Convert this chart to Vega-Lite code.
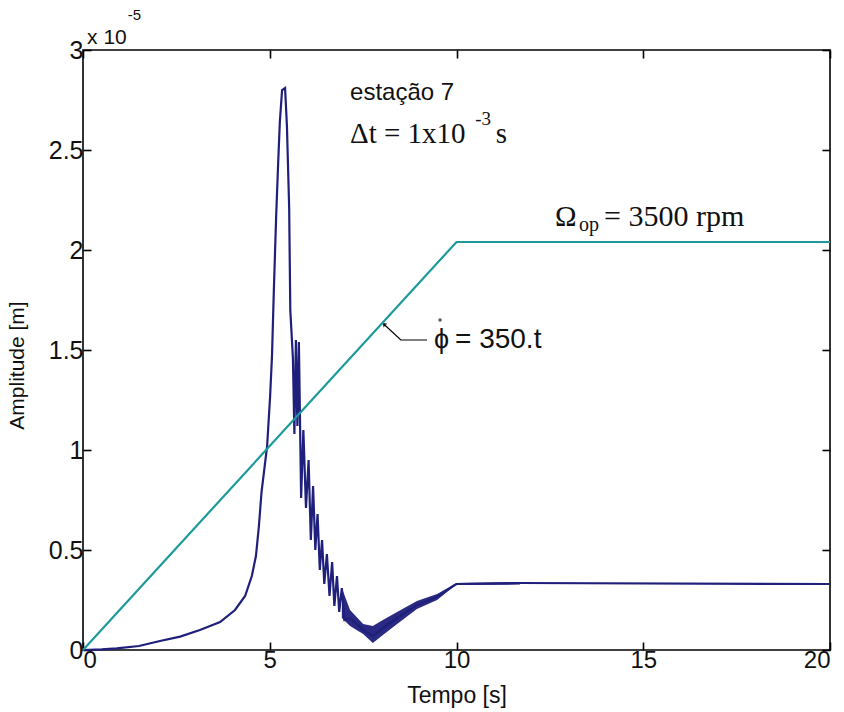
{
  "$schema": "https://vega.github.io/schema/vega-lite/v6.json",
  "width": 747,
  "height": 600,
  "autosize": "none",
  "padding": {"left": 83, "top": 50, "right": 14, "bottom": 62},
  "background": "white",
  "config": {
    "view": {"stroke": "black", "strokeWidth": 1.6}
  },
  "datasets": {
    "amplitude": [
      {"t": 0, "a": 0}, {"t": 0.5, "a": 0.003}, {"t": 0.9, "a": 0.008},
      {"t": 1.5, "a": 0.02}, {"t": 2.06, "a": 0.045}, {"t": 2.6, "a": 0.067},
      {"t": 3.13, "a": 0.1}, {"t": 3.67, "a": 0.14}, {"t": 4.07, "a": 0.2},
      {"t": 4.34, "a": 0.27}, {"t": 4.52, "a": 0.37}, {"t": 4.63, "a": 0.47},
      {"t": 4.71, "a": 0.62}, {"t": 4.78, "a": 0.79}, {"t": 4.93, "a": 1.02},
      {"t": 5.01, "a": 1.27}, {"t": 5.06, "a": 1.47}, {"t": 5.11, "a": 1.8},
      {"t": 5.17, "a": 2.16}, {"t": 5.22, "a": 2.41}, {"t": 5.27, "a": 2.64},
      {"t": 5.33, "a": 2.8}, {"t": 5.41, "a": 2.81}, {"t": 5.46, "a": 2.62},
      {"t": 5.52, "a": 2.21}, {"t": 5.55, "a": 1.7}, {"t": 5.62, "a": 1.46},
      {"t": 5.66, "a": 1.08}, {"t": 5.7, "a": 1.55}, {"t": 5.74, "a": 1.12},
      {"t": 5.78, "a": 1.54}, {"t": 5.84, "a": 0.76}, {"t": 5.9, "a": 1.1},
      {"t": 5.97, "a": 0.71}, {"t": 6.04, "a": 0.95}, {"t": 6.1, "a": 0.55},
      {"t": 6.16, "a": 0.82}, {"t": 6.22, "a": 0.5}, {"t": 6.28, "a": 0.68},
      {"t": 6.34, "a": 0.4}, {"t": 6.4, "a": 0.55}, {"t": 6.46, "a": 0.33},
      {"t": 6.53, "a": 0.48}, {"t": 6.6, "a": 0.27}, {"t": 6.67, "a": 0.44},
      {"t": 6.73, "a": 0.22}, {"t": 6.8, "a": 0.37}, {"t": 6.86, "a": 0.19},
      {"t": 6.93, "a": 0.31}, {"t": 7.0, "a": 0.15}, {"t": 7.15, "a": 0.16},
      {"t": 7.5, "a": 0.1}, {"t": 7.76, "a": 0.07}, {"t": 8.03, "a": 0.11},
      {"t": 8.41, "a": 0.16}, {"t": 8.94, "a": 0.225}, {"t": 9.48, "a": 0.265},
      {"t": 9.91, "a": 0.32}, {"t": 10.0, "a": 0.33}, {"t": 11.7, "a": 0.335},
      {"t": 20, "a": 0.33}
    ],
    "band": [
      {"t": 6.93, "hi": 0.31, "lo": 0.16},
      {"t": 7.15, "hi": 0.2, "lo": 0.12},
      {"t": 7.5, "hi": 0.13, "lo": 0.08},
      {"t": 7.76, "hi": 0.12, "lo": 0.035},
      {"t": 8.03, "hi": 0.15, "lo": 0.075},
      {"t": 8.41, "hi": 0.19, "lo": 0.13},
      {"t": 8.94, "hi": 0.245, "lo": 0.205},
      {"t": 9.48, "hi": 0.28, "lo": 0.25},
      {"t": 9.91, "hi": 0.325, "lo": 0.315},
      {"t": 10.0, "hi": 0.335, "lo": 0.325},
      {"t": 11.7, "hi": 0.34, "lo": 0.327}
    ],
    "speed": [
      {"t": 0, "rpm": 0},
      {"t": 10, "rpm": 3500},
      {"t": 20, "rpm": 3500}
    ],
    "labels": [
      {"t": 7.15, "a": 2.75, "txt": "estação 7", "serif": false, "size": 24},
      {"t": 7.15, "a": 2.535, "txt": "Δt = 1x10", "serif": true, "size": 29},
      {"t": 10.5, "a": 2.625, "txt": "-3", "serif": true, "size": 19},
      {"t": 11.05, "a": 2.535, "txt": "s", "serif": true, "size": 29},
      {"t": 12.64, "a": 2.12, "txt": "Ω", "serif": true, "size": 29},
      {"t": 13.28, "a": 2.095, "txt": "op", "serif": true, "size": 20},
      {"t": 13.95, "a": 2.12, "txt": "= 3500 rpm", "serif": true, "size": 30},
      {"t": 9.4, "a": 1.51, "txt": "ϕ", "serif": false, "size": 27},
      {"t": 9.96, "a": 1.51, "txt": "= 350.t", "serif": false, "size": 28},
      {"t": 0.11, "a": 3.03, "txt": "x 10", "serif": false, "size": 21},
      {"t": 1.2, "a": 3.15, "txt": "-5", "serif": false, "size": 15}
    ],
    "phidot": [
      {"t": 9.56, "a": 1.65}
    ],
    "leader": [
      {"k": 0, "t": 9.21, "a": 1.55},
      {"k": 1, "t": 8.51, "a": 1.55},
      {"k": 2, "t": 8.05, "a": 1.63}
    ]
  },
  "layer": [
    {
      "layer": [
        {
          "data": {"name": "band"},
          "mark": {"type": "area", "color": "#1f1f7c", "opacity": 0.95},
          "encoding": {
            "x": {"field": "t", "type": "quantitative", "scale": {"domain": [0, 20], "nice": false}, "axis": null},
            "y": {"field": "hi", "type": "quantitative", "scale": {"domain": [0, 3], "nice": false}, "axis": null},
            "y2": {"field": "lo"}
          }
        },
        {
          "data": {"name": "amplitude"},
          "mark": {"type": "line", "color": "#1f1f7c", "strokeWidth": 2.2},
          "encoding": {
            "x": {
              "field": "t", "type": "quantitative",
              "scale": {"domain": [0, 20], "nice": false},
              "axis": {
                "orient": "bottom", "values": [0, 5, 10, 15, 20], "format": "~g",
                "title": "Tempo [s]", "grid": false, "domain": false,
                "tickColor": "black", "tickWidth": 1.6, "tickSize": -8,
                "labelFont": "Liberation Sans", "labelFontSize": 24, "labelColor": "#111", "labelPadding": 6,
                "titleFont": "Liberation Sans", "titleFontSize": 23, "titleFontWeight": "normal", "titleColor": "#111",
                "titleY": 34, "titleBaseline": "top"
              }
            },
            "y": {
              "field": "a", "type": "quantitative",
              "scale": {"domain": [0, 3], "nice": false},
              "axis": {
                "orient": "left", "values": [0, 0.5, 1, 1.5, 2, 2.5, 3], "format": "~g",
                "title": "Amplitude [m]", "grid": false, "domain": false,
                "tickColor": "black", "tickWidth": 1.6, "tickSize": -8,
                "labelFont": "Liberation Sans", "labelFontSize": 25, "labelColor": "#111", "labelPadding": 8,
                "titleFont": "Liberation Sans", "titleFontSize": 21, "titleFontWeight": "normal", "titleColor": "#111",
                "titleX": -56, "titleY": 315, "titleBaseline": "bottom"
              }
            }
          }
        },
        {
          "data": {"name": "amplitude"},
          "mark": {"type": "point", "opacity": 0},
          "encoding": {
            "x": {"field": "t", "type": "quantitative",
                  "axis": {"orient": "top", "values": [0, 5, 10, 15, 20], "labels": false, "title": null,
                           "grid": false, "domain": false, "tickColor": "black", "tickWidth": 1.6, "tickSize": -8}},
            "y": {"field": "a", "type": "quantitative",
                  "axis": {"orient": "right", "values": [0, 0.5, 1, 1.5, 2, 2.5, 3], "labels": false, "title": null,
                           "grid": false, "domain": false, "tickColor": "black", "tickWidth": 1.6, "tickSize": -8}}
          }
        },
        {
          "data": {"name": "leader"},
          "mark": {"type": "line", "color": "black", "strokeWidth": 1.2},
          "encoding": {
            "x": {"field": "t", "type": "quantitative", "axis": null},
            "y": {"field": "a", "type": "quantitative", "axis": null},
            "order": {"field": "k"}
          }
        },
        {
          "data": {"name": "leader"},
          "transform": [{"filter": "datum.k == 2"}],
          "mark": {"type": "point", "shape": "triangle-up", "angle": -46, "size": 30, "filled": true, "color": "black"},
          "encoding": {
            "x": {"field": "t", "type": "quantitative", "axis": null},
            "y": {"field": "a", "type": "quantitative", "axis": null}
          }
        },
        {
          "data": {"name": "phidot"},
          "mark": {"type": "point", "shape": "circle", "size": 12, "filled": true, "color": "#111"},
          "encoding": {
            "x": {"field": "t", "type": "quantitative", "axis": null},
            "y": {"field": "a", "type": "quantitative", "axis": null}
          }
        },
        {
          "data": {"name": "labels"},
          "transform": [{"filter": "!datum.serif"}],
          "mark": {"type": "text", "align": "left", "baseline": "alphabetic", "color": "#111", "font": "Liberation Sans", "clip": false},
          "encoding": {
            "x": {"field": "t", "type": "quantitative", "axis": null},
            "y": {"field": "a", "type": "quantitative", "axis": null},
            "text": {"field": "txt"},
            "size": {"field": "size", "type": "quantitative", "scale": null}
          }
        },
        {
          "data": {"name": "labels"},
          "transform": [{"filter": "datum.serif"}],
          "mark": {"type": "text", "align": "left", "baseline": "alphabetic", "color": "#111", "font": "Liberation Serif", "clip": false},
          "encoding": {
            "x": {"field": "t", "type": "quantitative", "axis": null},
            "y": {"field": "a", "type": "quantitative", "axis": null},
            "text": {"field": "txt"},
            "size": {"field": "size", "type": "quantitative", "scale": null}
          }
        }
      ],
      "resolve": {"axis": {"x": "independent", "y": "independent"}}
    },
    {
      "data": {"name": "speed"},
      "mark": {"type": "line", "color": "#1e9a9c", "strokeWidth": 2.2},
      "encoding": {
        "x": {"field": "t", "type": "quantitative", "axis": null},
        "y": {"field": "rpm", "type": "quantitative", "scale": {"domain": [0, 5147], "nice": false}, "axis": null}
      }
    }
  ],
  "resolve": {"scale": {"y": "independent"}, "axis": {"x": "independent", "y": "independent"}}
}
